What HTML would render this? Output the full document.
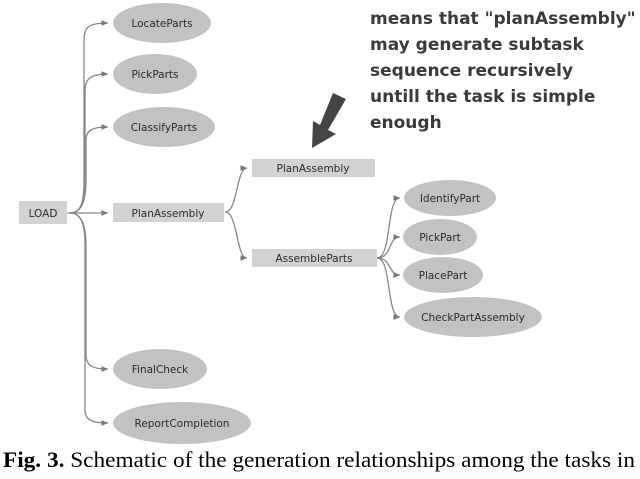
<!DOCTYPE html>
<html><head><style>
html,body{margin:0;padding:0;background:#fff;}
</style></head><body>
<svg width="640" height="479" viewBox="0 0 640 479" xmlns="http://www.w3.org/2000/svg" style="display:block">
<defs><marker id="a" markerWidth="6" markerHeight="6" refX="5" refY="3" orient="auto"><path d="M0,0.8 L5,3 L0,5.2z" fill="#777"/></marker></defs>
<g fill="none" stroke="#888" stroke-width="1.3" marker-end="url(#a)">
<path d="M70,213 C82,213 84,200 84,180 L84,40 C84,26 90,23 108,23"/>
<path d="M70,213 C82,213 85,200 85,180 L85,90 C85,78 92,74 108,74"/>
<path d="M70,213 C82,213 86,200 86,180 L86,140 C86,130 93,127 108,127"/>
<path d="M67,213 L108,213"/>
<path d="M70,213 C82,213 86,226 86,246 L86,355 C86,366 93,369 108,369"/>
<path d="M70,213 C82,213 85,226 85,246 L85,410 C85,420 92,423 108,423"/>
<path d="M225,212 C238,212 236,168 247,168"/>
<path d="M225,212 C238,212 236,258 247,258"/>
<path d="M377,258 C392,258 386,198 400,198"/>
<path d="M377,258 C392,258 388,237 400,237"/>
<path d="M377,258 C392,258 388,275 400,275"/>
<path d="M377,258 C392,258 386,317 400,317"/>
</g>
<g fill="#c2c2c2">
<ellipse cx="162" cy="23" rx="49" ry="20"/>
<ellipse cx="155" cy="74" rx="42" ry="20"/>
<ellipse cx="164" cy="127" rx="51" ry="20"/>
<ellipse cx="160" cy="369" rx="47" ry="20"/>
<ellipse cx="182" cy="423" rx="69" ry="21"/>
<ellipse cx="450" cy="198" rx="46" ry="18"/>
<ellipse cx="440" cy="237" rx="37" ry="18"/>
<ellipse cx="443" cy="275" rx="40" ry="18"/>
<ellipse cx="473" cy="317" rx="69" ry="20"/>
</g>
<g fill="#d2d2d2">
<rect x="19" y="201" width="48" height="23"/>
<rect x="113" y="203" width="111" height="19"/>
<rect x="252" y="159" width="123" height="18"/>
<rect x="252" y="249" width="125" height="18"/>
</g>
<g font-family="DejaVu Sans, sans-serif" font-size="10.5" fill="#2a2a2a" text-anchor="middle">
<text x="162" y="27">LocateParts</text>
<text x="155" y="78">PickParts</text>
<text x="164" y="131">ClassifyParts</text>
<text x="43" y="217">LOAD</text>
<text x="168" y="217">PlanAssembly</text>
<text x="313" y="172">PlanAssembly</text>
<text x="314" y="262">AssembleParts</text>
<text x="450" y="202">IdentifyPart</text>
<text x="440" y="241">PickPart</text>
<text x="443" y="279">PlacePart</text>
<text x="473" y="321">CheckPartAssembly</text>
<text x="160" y="373">FinalCheck</text>
<text x="182" y="427">ReportCompletion</text>
</g>
<path d="M333,93 L346,99 L328,130 L336,134 L312,148 L313,121 L320,125 Z" fill="#444"/>
<g font-family="DejaVu Sans, sans-serif" font-weight="bold" font-size="17" fill="#3a3a3a">
<text x="370" y="24">means that "planAssembly"</text>
<text x="370" y="50">may generate subtask</text>
<text x="370" y="76">sequence recursively</text>
<text x="370" y="102">untill the task is simple</text>
<text x="370" y="128">enough</text>
</g>
<text x="3" y="467" font-family="Liberation Serif, serif" font-size="22" fill="#000" textLength="632" lengthAdjust="spacingAndGlyphs"><tspan font-weight="bold">Fig. 3.</tspan>  Schematic of the generation relationships among the tasks in</text>
</svg>
</body></html>
